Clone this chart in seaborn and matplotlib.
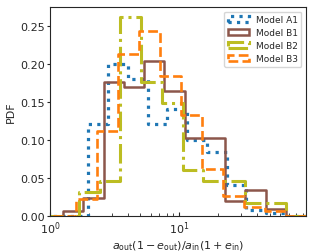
import numpy as np
import matplotlib
matplotlib.use("Agg")
import matplotlib.pyplot as plt
import matplotlib.patches as mpatches
import seaborn as sns

# ── Data (bin edges and per-bin probability) ──────────────────────────────
edges_a1 = [1.98, 2.82, 4.00, 5.69, 8.08, 11.5, 16.3, 23.2, 32.9, 46.8, 66.5]
pdf_a1 = [0.121, 0.200, 0.180, 0.121, 0.141, 0.100, 0.084, 0.040, 0.008, 0.004]

edges_b1 = [1.26, 1.81, 2.60, 3.72, 5.34, 7.66, 11.0, 15.8, 22.6, 32.4, 46.5, 66.5]
pdf_b1 = [0.0066, 0.023, 0.1755, 0.170, 0.204, 0.1646, 0.1024, 0.1024,
          0.0198, 0.0344, 0.0082]

edges_b2 = [1.68, 2.43, 3.50, 5.06, 7.32, 10.6, 15.3, 22.1, 31.9, 46.1, 66.5]
pdf_b2 = [0.031, 0.046, 0.2615, 0.1755, 0.148, 0.0595, 0.0455, 0.0455,
          0.0164, 0.0164]

edges_b3 = [1.59, 2.31, 3.36, 4.88, 7.09, 10.3, 15.0, 21.7, 31.6, 45.8, 66.5]
pdf_b3 = [0.022, 0.112, 0.2126, 0.243, 0.184, 0.132, 0.061, 0.0256,
          0.011, 0.006]

labels = ["Model A1", "Model B1", "Model B2", "Model B3"]
colors = ["tab:blue", "tab:brown", "tab:olive", "tab:orange"]
styles = [":", "-", "-.", "--"]
widths = [2.3, 1.8, 2.2, 1.9]

sns.set_style("ticks")
plt.rcParams["font.family"] = ["DejaVu Sans"]

fig = plt.figure(figsize=(3.15, 2.53), dpi=100)
ax = fig.add_axes([0.159, 0.1435, 0.812, 0.8245])

series = [(edges_a1, pdf_a1), (edges_b1, pdf_b1),
          (edges_b2, pdf_b2), (edges_b3, pdf_b3)]
for (edges, pdf), c, ls, lw in zip(series, colors, styles, widths):
    # pad with empty bins so the outline runs along zero across the axis
    e = [0.5] + list(edges) + [200.0]
    w = [0.0] + list(pdf) + [0.0]
    centers = [np.sqrt(a * b) for a, b in zip(e[:-1], e[1:])]
    sns.histplot(x=centers, weights=w, bins=e, element="step", fill=False,
                 stat="count", color=c, linestyle=ls, linewidth=lw, ax=ax)

ax.set_xscale("log")
ax.set_xlim(1, 95)
ax.set_ylim(0, 0.2746)
ax.set_yticks([0.0, 0.05, 0.10, 0.15, 0.20, 0.25])
ax.tick_params(axis="y", which="major", labelsize=8, length=2, width=0.8, pad=2)
ax.tick_params(axis="x", which="major", labelsize=8, direction="in",
               length=3, width=0.8, pad=2.5)
ax.tick_params(axis="x", which="minor", direction="in", length=2, width=0.6)
ax.set_xlabel(r"$a_{\rm out}(1-e_{\rm out})/a_{\rm in}(1+e_{\rm in})$",
              fontsize=8, labelpad=2)
ax.set_ylabel("PDF", fontsize=8, labelpad=3)

handles = [mpatches.Patch(fill=False, edgecolor=c, linestyle=ls, linewidth=lw)
           for c, ls, lw in zip(colors, styles, widths)]
ax.legend(handles, labels, loc="upper right", fontsize=6.5,
          handlelength=2.3, labelspacing=0.45, borderpad=0.4)

plt.savefig("out.png", dpi=100)
